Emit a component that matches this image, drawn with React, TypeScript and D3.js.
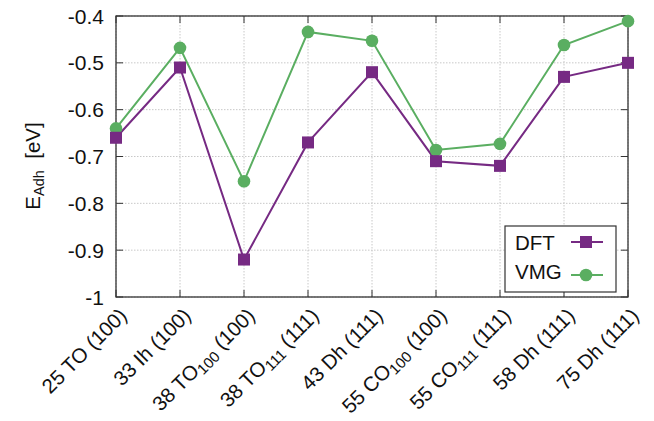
import * as d3 from 'd3'

const width = 654
const height = 421
const margin = { top: 16, right: 26, bottom: 124, left: 116 }
const innerWidth = width - margin.left - margin.right
const innerHeight = height - margin.top - margin.bottom

// label parts: [main, subscript, tail]
const categories: [string, string, string][] = [
  ['25 TO (100)', '', ''],
  ['33 Ih (100)', '', ''],
  ['38 TO', '100', ' (100)'],
  ['38 TO', '111', ' (111)'],
  ['43 Dh (111)', '', ''],
  ['55 CO', '100', ' (100)'],
  ['55 CO', '111', ' (111)'],
  ['58 Dh (111)', '', ''],
  ['75 Dh (111)', '', ''],
]
const dft = [-0.66, -0.51, -0.92, -0.67, -0.52, -0.71, -0.72, -0.53, -0.5]
const vmg = [-0.64, -0.468, -0.753, -0.434, -0.453, -0.686, -0.673, -0.462, -0.411]
const yTicks = [-1, -0.9, -0.8, -0.7, -0.6, -0.5, -0.4]

const purple = '#762a83'
const green = '#5aae61'
const font = 'Liberation Sans, Arial, sans-serif'
const fs = 20.5

const App = () => {
  const x = d3.scaleLinear().domain([0, categories.length - 1]).range([0, innerWidth])
  const y = d3.scaleLinear().domain([-1, -0.4]).range([innerHeight, 0])
  const line = d3
    .line<number>()
    .x((_, i) => x(i))
    .y((d) => y(d))

  return (
    <svg width={width} height={height} style={{ display: 'block', position: 'absolute', left: 0, top: 0 }}>
      <rect width={width} height={height} fill="#fff" />
      <g transform={`translate(${margin.left},${margin.top})`} fontFamily={font}>
        {/* grid */}
        {yTicks.map((t) => (
          <g key={t}>
            <line x1={0} x2={innerWidth} y1={y(t)} y2={y(t)} stroke="#c8c8c8" strokeDasharray="1.5,1.5" strokeWidth={1} />
            <line x1={0} x2={7} y1={y(t)} y2={y(t)} stroke="#333" />
            <line x1={innerWidth - 7} x2={innerWidth} y1={y(t)} y2={y(t)} stroke="#333" />
            <text x={-12} y={y(t)} dy="0.36em" textAnchor="end" fontSize={21} fill="#111">
              {t}
            </text>
          </g>
        ))}
        {categories.map((c, i) => (
          <g key={i}>
            <line x1={x(i)} x2={x(i)} y1={0} y2={innerHeight} stroke="#c8c8c8" strokeDasharray="1.5,1.5" strokeWidth={1} />
            <line x1={x(i)} x2={x(i)} y1={innerHeight - 7} y2={innerHeight} stroke="#333" />
            <line x1={x(i)} x2={x(i)} y1={0} y2={7} stroke="#333" />
            <text
              transform={`translate(${x(i) + 12},${innerHeight + 20}) rotate(-45)`}
              textAnchor="end"
              fontSize={fs}
              fill="#111"
            >
              {c[0]}
              {c[1] && (
                <tspan fontSize={15} dy="4">
                  {c[1]}
                </tspan>
              )}
              {c[1] && <tspan dy="-4">{c[2]}</tspan>}
            </text>
          </g>
        ))}
        <rect width={innerWidth} height={innerHeight} fill="none" stroke="#333" strokeWidth={1.3} />

        {/* series */}
        <path d={line(vmg) ?? ''} fill="none" stroke={green} strokeWidth={2} />
        <path d={line(dft) ?? ''} fill="none" stroke={purple} strokeWidth={2} />
        {vmg.map((v, i) => (
          <circle key={i} cx={x(i)} cy={y(v)} r={6.3} fill={green} />
        ))}
        {dft.map((v, i) => (
          <rect key={i} x={x(i) - 6} y={y(v) - 6} width={12} height={12} fill={purple} />
        ))}

        {/* legend */}
        <g transform={`translate(${505 - margin.left},${226 - margin.top})`}>
          <rect width={111} height={66} fill="#fff" stroke="#333" strokeWidth={1.2} />
          <text x={10} y={24} fontSize={fs} fill="#111">DFT</text>
          <line x1={66} x2={98} y1={16} y2={16} stroke={purple} strokeWidth={2} />
          <rect x={75} y={10} width={12} height={12} fill={purple} />
          <text x={10} y={53} fontSize={fs} fill="#111">VMG</text>
          <line x1={66} x2={98} y1={49} y2={49} stroke={green} strokeWidth={2} />
          <circle cx={81} cy={49} r={6.3} fill={green} />
        </g>

        {/* y label */}
        <text transform={`translate(${40 - margin.left},${166 - margin.top}) rotate(-90)`} textAnchor="middle" fontSize={fs} fill="#111">
          E<tspan fontSize={14.5} dy="4">Adh</tspan>
          <tspan dy="-4">{'\u00a0 [eV]'}</tspan>
        </text>
      </g>
    </svg>
  )
}

export default App
